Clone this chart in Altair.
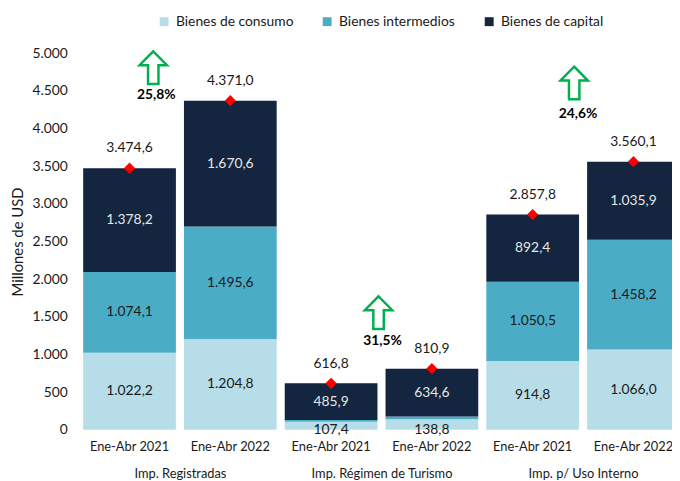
import altair as alt
import pandas as pd

groups = ["Imp. Registradas", "Imp. Régimen de Turismo", "Imp. p/ Uso Interno"]
periods = ["Ene-Abr 2021", "Ene-Abr 2022"]
series = ["Bienes de consumo", "Bienes intermedios", "Bienes de capital"]
consumo = [1022.2, 1204.8, 107.4, 138.8, 914.8, 1066.0]
intermedios = [1074.1, 1495.6, 23.5, 37.5, 1050.5, 1458.2]
capital = [1378.2, 1670.6, 485.9, 634.6, 892.4, 1035.9]
totals = [3474.6, 4371.0, 616.8, 810.9, 2857.8, 3560.1]
growth_pct = [25.8, 31.5, 24.6]
arrow_y = [4810, 1555, 4606]
pct_y = [4449, 1181, 4199]
y_ticks = [0, 500, 1000, 1500, 2000, 2500, 3000, 3500, 4000, 4500, 5000]

colors = ["#B7DEE8", "#4BACC6", "#13253F"]
FONT = "Lato"


def es(v, dec=1):
    s = f"{v:,.{dec}f}"
    return s.replace(",", "X").replace(".", ",").replace("X", ".")


bar_keys = [f"{g}|{p}" for g in groups for p in periods]
rows = []
for i, key in enumerate(bar_keys):
    base = 0.0
    for j, (s, vals) in enumerate(zip(series, [consumo, intermedios, capital])):
        v = vals[i]
        rows.append({
            "bar": key, "series": s, "idx": j, "value": v,
            "y0": base, "y1": base + v,
            "mid": base + v / 2 if v >= 200 else base,
            "label": es(v) if v >= 100 else "",
            "dark": j == 2,
        })
        base += v
df = pd.DataFrame(rows)
df_tot = pd.DataFrame({"bar": bar_keys, "total": totals,
                       "tlabel": [es(t) for t in totals]})
df_g = pd.DataFrame({"group": groups, "pct": growth_pct,
                     "plabel": [es(p) + "%" for p in growth_pct],
                     "ay": arrow_y, "py": pct_y})

xbar = alt.X("bar:N", sort=bar_keys,
             scale=alt.Scale(range=[0, 612], paddingInner=0.08, paddingOuter=0.04),
             axis=alt.Axis(title=None, orient="bottom", labelExpr="split(datum.value, '|')[1]",
                           labelAngle=0, ticks=False, domain=False, labelPadding=11,
                           labelFontSize=13, labelFont=FONT, labelColor="#1a1a1a"))
yscale = alt.Scale(domain=[0, 5000])
yaxis = alt.Axis(title="Millones de USD", values=y_ticks,
                 labelExpr="replace(format(datum.value, ','), ',', '.')",
                 labelOverlap=False,
                 ticks=False, domain=False, grid=False, labelPadding=12,
                 labelFontSize=14, labelFont=FONT, labelColor="#1a1a1a",
                 titleFontSize=15, titleFont=FONT, titleFontWeight="normal",
                 titleColor="#1a1a1a", titlePadding=7)

bars = alt.Chart(df).mark_bar().encode(
    x=xbar,
    y=alt.Y("y0:Q", scale=yscale, axis=yaxis),
    y2="y1:Q",
    color=alt.Color("series:N", sort=series,
                    scale=alt.Scale(domain=series, range=colors),
                    legend=alt.Legend(title=None, orient="none", direction="horizontal",
                                      legendX=79, legendY=-39, symbolType="square",
                                      symbolSize=81, symbolStrokeWidth=0, labelFontSize=14,
                                      labelFont=FONT, labelColor="#1a1a1a",
                                      columnPadding=27, labelOffset=5, padding=0)),
)

labels = alt.Chart(df).mark_text(fontSize=14, font=FONT, baseline="middle").encode(
    x=alt.X("bar:N", sort=bar_keys),
    y=alt.Y("mid:Q", axis=yaxis),
    text="label:N",
    color=alt.condition("datum.dark", alt.value("#e6e6e6"), alt.value("#1a1a1a")),
)

diamonds = alt.Chart(df_tot).mark_point(shape="diamond", filled=True, color="#FF0000",
                                        size=130, opacity=1).encode(
    x=alt.X("bar:N", sort=bar_keys), y=alt.Y("total:Q", axis=yaxis))

tot_text = alt.Chart(df_tot).mark_text(fontSize=14, font=FONT, dy=-20,
                                       color="#1a1a1a").encode(
    x=alt.X("bar:N", sort=bar_keys), y=alt.Y("total:Q", axis=yaxis), text="tlabel:N")

bar_layer = alt.layer(bars, labels, diamonds, tot_text)

arrow_path = "M0,-1 L0.84,-0.15 L0.32,-0.15 L0.32,1 L-0.32,1 L-0.32,-0.15 L-0.84,-0.15 Z"
arrow_dx = [-27, -3, -9]
text_dx = [-24, 1, -5]

gscale = alt.Scale(domain=groups, range=[0, 612], paddingInner=0, paddingOuter=0)
gaxis = alt.Axis(title=None, orient="bottom", labelAngle=0, ticks=False, domain=False,
                 labelPadding=38, labelFontSize=13, labelFont=FONT,
                 labelColor="#1a1a1a")
group_layers = []
for i, g in enumerate(groups):
    base = alt.Chart(df_g).transform_filter(alt.datum.group == g)
    arr = base.mark_point(shape=arrow_path, size=1089, filled=True, fill="white",
                          fillOpacity=1, stroke="#00B050", strokeWidth=2.5, opacity=1,
                          xOffset=arrow_dx[i]).encode(
        x=alt.X("group:N", scale=gscale, sort=groups, axis=gaxis),
        y=alt.Y("ay:Q", axis=yaxis))
    pt = base.mark_text(fontSize=14, font=FONT, fontWeight="bold", color="#000000",
                        xOffset=text_dx[i]).encode(
        x=alt.X("group:N", scale=gscale, sort=groups, axis=gaxis),
        y=alt.Y("py:Q", axis=yaxis), text="plabel:N")
    group_layers += [arr, pt]

group_layer = alt.layer(*group_layers)

chart = alt.layer(bar_layer, group_layer).resolve_scale(x="independent").properties(
    width=600, height=381,
    autosize=alt.AutoSizeParams(type="none"),
    padding={"left": 72, "top": 43, "right": 0, "bottom": 48},
).configure_view(stroke=None).configure_axisY(labelOverlap=False, values=y_ticks)

chart.save("out.html", embed_options={"renderer": "svg", "actions": False})
